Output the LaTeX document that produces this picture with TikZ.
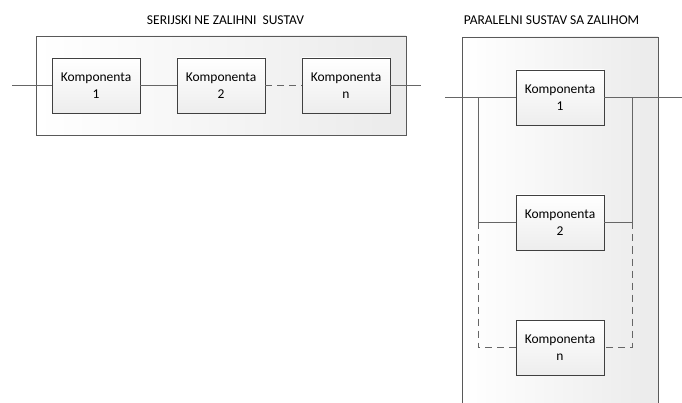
\documentclass[tikz,border=0pt]{standalone}
\usepackage{fontspec}
\setmainfont{Carlito}
\usetikzlibrary{positioning,calc,shadows}

\begin{document}
\begin{tikzpicture}[
  x=1pt,y=-1pt,
  on grid,
  node distance=125pt,
  every node/.style={font=\fontsize{13.5}{17}\selectfont},
  frame/.style={draw=black!65,line width=0.8pt,left color=white,right color=black!8},
  komp/.style={draw=black!75,line width=0.8pt,top color=white,bottom color=black!7,
    minimum width=88pt,minimum height=55pt,align=center,inner sep=1pt,
    drop shadow={opacity=0.25,shadow xshift=1pt,shadow yshift=-1pt}},
  wire/.style={draw=black!60,line width=1pt},
  gap/.style={wire,dash pattern=on 7pt off 5pt}
  ]

  \path[use as bounding box] (0,0) rectangle (682,403);

  \path[frame] (36,36) rectangle (406,135);
  \fill[left color=white,right color=black!8] (462,37) rectangle (658,403);
  \draw[draw=black!65,line width=0.8pt] (462,403) |- (658,37) -- (658,403);

  \node (tser) at (225.5,20) {SERIJSKI NE ZALIHNI\ \ SUSTAV};
  \node (tpar) at (551.5,20) {PARALELNI SUSTAV SA ZALIHOM};

  \node[komp] (s1) at (96,85.5)  {Komponenta\\1};
  \node[komp] (s2) [right=of s1] {Komponenta\\2};
  \node[komp] (sn) [right=of s2] {Komponenta\\n};

  \node[komp] (p1) at (560,97.5) {Komponenta\\1};
  \node[komp] (p2) [below=of p1] {Komponenta\\2};
  \node[komp] (pn) [below=of p2] {Komponenta\\n};

  \coordinate (sin)  at (12,85.5);
  \coordinate (sout) at (421,85.5);
  \coordinate (pin)  at (445,97.5);
  \coordinate (pout) at (682,97.5);
  \coordinate (jl)   at (478,97.5);
  \coordinate (jr)   at (632,97.5);

  \draw[wire] (sin) -- (s1) (s1) -- (s2) (sn) -- (sout);
  \draw[gap]  (s2) -- (sn);

  \draw[wire] (pin) -- (p1) (p1) -- (pout)
    (jl) |- (p2) (jr) |- (p2);
  \draw[gap] (jl |- p2) |- (pn) (jr |- p2) |- (pn);
\end{tikzpicture}
\end{document}
